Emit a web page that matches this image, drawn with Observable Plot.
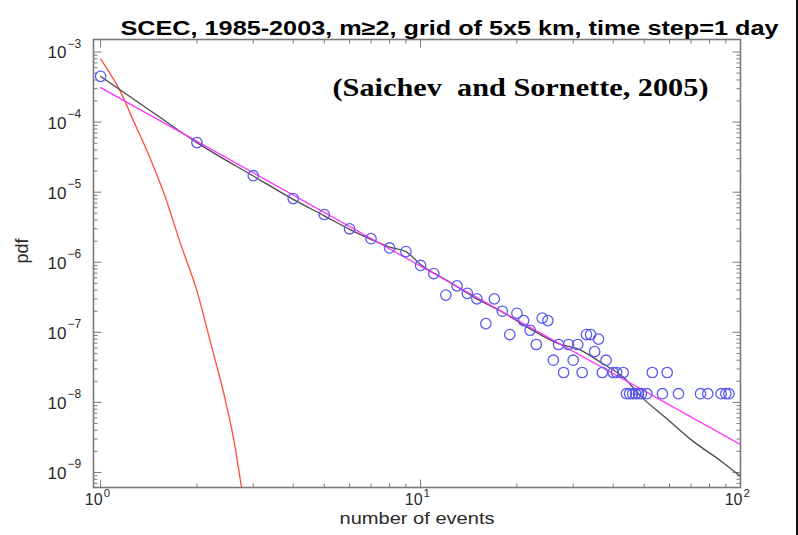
<!DOCTYPE html>
<html><head><meta charset="utf-8">
<script src="https://cdn.jsdelivr.net/npm/d3@7"></script>
<script src="https://cdn.jsdelivr.net/npm/@observablehq/plot@0.6"></script>
<style>
body{margin:0;background:#fff;}
#chart{width:796px;height:535px;border-right:2px solid #111;overflow:hidden;}
</style></head><body><div id="chart"></div>
<script>
// ---- data ----
const titleText = "SCEC, 1985-2003, m\u22652, grid of 5x5 km, time step=1 day";
const noteText = "(Saichev\u00a0 and Sornette, 2005)";
const xLabel = "number of events";
const yLabel = "pdf";

const obsX = [1,2,3,4,5,6,7,8,9,10,11,12,13,14,15,16,17,18,19,20,21,22,23,24,25,26,27,28,29,30,31,32,33,34,35,36,37,38,40,41,43,44,45,46,47,48,49,51,53,57,59,64,75,79,87,90,92];
const obsY = [4.5e-4,5.1e-5,1.72e-5,8.1e-6,4.8e-6,3.0e-6,2.17e-6,1.6e-6,1.42e-6,9.0e-7,6.9e-7,3.4e-7,4.6e-7,3.6e-7,3.0e-7,1.33e-7,3.0e-7,2.0e-7,9.3e-8,1.87e-7,1.47e-7,1.07e-7,6.7e-8,1.6e-7,1.47e-7,4.0e-8,6.7e-8,2.67e-8,6.7e-8,4.0e-8,6.7e-8,2.67e-8,9.3e-8,9.3e-8,5.3e-8,8.0e-8,2.67e-8,4.0e-8,2.67e-8,2.67e-8,2.67e-8,1.33e-8,1.33e-8,1.33e-8,1.33e-8,1.33e-8,1.33e-8,1.33e-8,2.67e-8,1.33e-8,2.67e-8,1.33e-8,1.33e-8,1.33e-8,1.33e-8,1.33e-8,1.33e-8];

const blackX = [1,1.5,2,3,4,5,6,7,8,9,10,12,15,18,22,27,31,37,43,49,59,71,87,100];
const blackY = [4.5e-4,1.25e-4,5.1e-5,1.7e-5,7.9e-6,4.6e-6,2.95e-6,2.12e-6,1.65e-6,1.42e-6,9.3e-7,5.6e-7,3.0e-7,1.95e-7,1.12e-7,6.9e-8,5.8e-8,3.6e-8,2.3e-8,1.2e-8,5.8e-9,2.8e-9,1.45e-9,8.8e-10];

const pinkX = [1,100];
const pinkY = [3.1e-4,2.5e-9];

const redX = [1,1.18,1.24,1.43,1.58,1.78,2.0,2.21,2.44,2.62,2.75,2.85];
const redY = [7.9e-4,2.2e-4,1.3e-4,3.0e-5,9.4e-6,1.8e-6,3.9e-7,6.9e-8,1.2e-8,2.6e-9,6.6e-10,2.5e-10];

const xMajor = [1,10,100];
const xExp = ["0","1","2"];
const yMajor = [1e-3,1e-4,1e-5,1e-6,1e-7,1e-8,1e-9];
const yExp = ["\u22123","\u22124","\u22125","\u22126","\u22127","\u22128","\u22129"];
const tickBase = "10";

// ---- tables ----
const obs = obsX.map((x,i)=>({x, y: obsY[i]}));
const black = blackX.map((x,i)=>({x, y: blackY[i]}));
const pink = pinkX.map((x,i)=>({x, y: pinkY[i]}));
const red = redX.map((x,i)=>({x, y: redY[i]}));

const xDomain = [0.95, 100];
const yDomain = [6.1e-10, 1.51e-3];
const xMinor = d3.scaleLog().domain(xDomain).ticks().filter(v => !xMajor.some(m => Math.abs(m - v) / m < 1e-9));
const yMinor = d3.scaleLog().domain(yDomain).ticks().filter(v => !yMajor.some(m => Math.abs(m - v) / m < 1e-9));
const xMajIdx = xMajor.map((v,i)=>({v, e: xExp[i]}));
const yMajIdx = yMajor.map((v,i)=>({v, e: yExp[i]}));

const frameCol = "#7a7a7a";
const ink = "#2a2a2a";
const tickOpts = {anchor: "start", stroke: frameCol, strokeWidth: 1, r: 0, strokeLinecap: "butt"};

const chart = Plot.plot({
  width: 796, height: 535,
  marginTop: 39, marginBottom: 48, marginLeft: 93, marginRight: 56,
  style: {background: "white", fontFamily: "'Liberation Sans', Arial, sans-serif"},
  x: {type: "log", domain: xDomain, axis: null},
  y: {type: "log", domain: yDomain, axis: null},
  marks: [
    // ticks (inward, all four sides)
    Plot.vector(xMajor, {x: d=>d, frameAnchor: "bottom", length: 8, rotate: 0, ...tickOpts}),
    Plot.vector(xMajor, {x: d=>d, frameAnchor: "top", length: 8, rotate: 180, ...tickOpts}),
    Plot.vector(xMinor, {x: d=>d, frameAnchor: "bottom", length: 4, rotate: 0, ...tickOpts}),
    Plot.vector(xMinor, {x: d=>d, frameAnchor: "top", length: 4, rotate: 180, ...tickOpts}),
    Plot.vector(yMajor, {y: d=>d, frameAnchor: "left", length: 8, rotate: 90, ...tickOpts}),
    Plot.vector(yMajor, {y: d=>d, frameAnchor: "right", length: 8, rotate: 270, ...tickOpts}),
    Plot.vector(yMinor, {y: d=>d, frameAnchor: "left", length: 4, rotate: 90, ...tickOpts}),
    Plot.vector(yMinor, {y: d=>d, frameAnchor: "right", length: 4, rotate: 270, ...tickOpts}),
    Plot.frame({stroke: frameCol, strokeWidth: 1.6}),
    // curves
    Plot.line(red, {x: "x", y: "y", stroke: "#ff4b3a", strokeWidth: 1.3, curve: "monotone-x", clip: true}),
    Plot.line(black, {x: "x", y: "y", stroke: "#4a4a4a", strokeWidth: 1.3, curve: "monotone-x", clip: true}),
    Plot.line(pink, {x: "x", y: "y", stroke: "#ff33ff", strokeWidth: 1.3, clip: true}),
    Plot.dot(obs, {x: "x", y: "y", r: 5.2, stroke: "#5a5af2", strokeWidth: 1.3, fill: "none"}),
    // tick labels
    Plot.text(yMajIdx, {y: "v", text: () => tickBase, frameAnchor: "left", dx: -27, dy: 1, textAnchor: "end", fontSize: 17, fill: ink}),
    Plot.text(yMajIdx, {y: "v", text: "e", frameAnchor: "left", dx: -26, dy: -8, textAnchor: "start", fontSize: 12, fill: ink}),
    Plot.text(xMajIdx, {x: "v", text: () => tickBase, frameAnchor: "bottom", dx: 2, dy: 17, textAnchor: "end", fontSize: 16, fill: ink}),
    Plot.text(xMajIdx, {x: "v", text: "e", frameAnchor: "bottom", dx: 3, dy: 9, textAnchor: "start", fontSize: 11.5, fill: ink}),
    // axis labels
    Plot.text([xLabel], {text: d=>d, frameAnchor: "bottom", dy: 36, fontSize: 17, fill: ink}),
    Plot.text([yLabel], {text: d=>d, frameAnchor: "left", dx: -71, rotate: -90, fontSize: 18, fill: ink}),
    // title and note
    Plot.text([titleText], {text: d=>d, frameAnchor: "top-right", dx: 38, dy: -19, textAnchor: "end", fontSize: 20, fontWeight: "bold", fill: "#000"}),
    Plot.text([noteText], {text: d=>d, frameAnchor: "top-right", dx: -32, dy: 38, textAnchor: "end", fontSize: 26, fontWeight: "bold", fill: "#000", fontFamily: "'Liberation Serif', 'Times New Roman', serif"})
  ]
});
document.getElementById("chart").appendChild(chart);

// widen texts to match the horizontally stretched reference
const stretch = {[titleText]: 658, [noteText]: 376, [xLabel]: 155};
d3.select(chart).selectAll("text").each(function() {
  const t = this.textContent;
  if (stretch[t]) d3.select(this).attr("textLength", stretch[t]).attr("lengthAdjust", "spacingAndGlyphs");
});
</script></body></html>
